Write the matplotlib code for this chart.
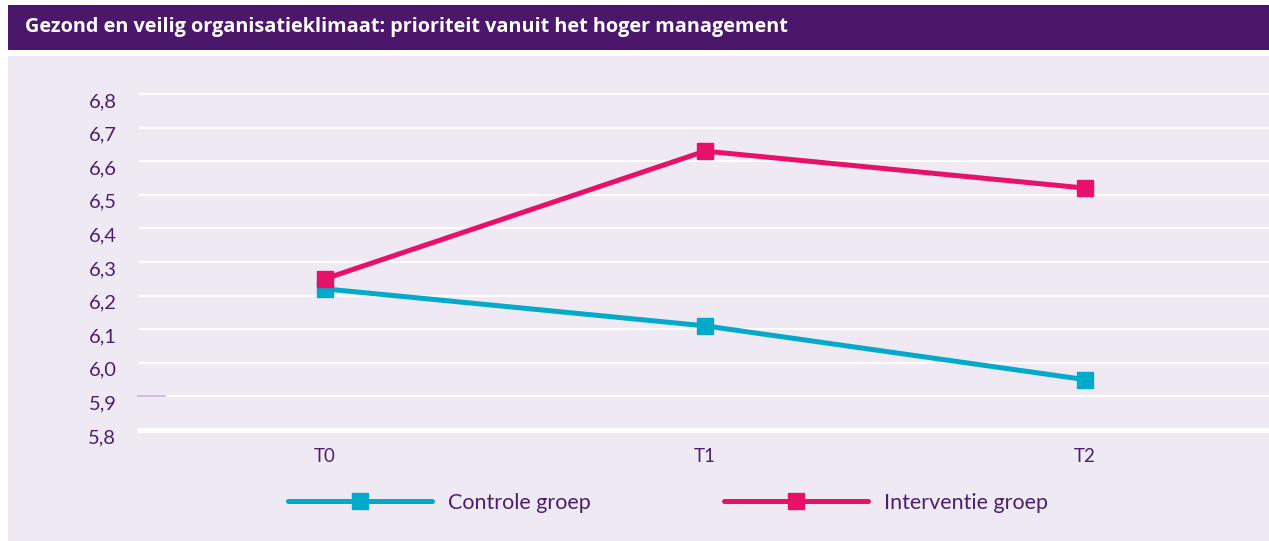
import numpy as np
import matplotlib.pyplot as plt
import matplotlib.transforms as mtransforms
from matplotlib.patches import Rectangle

# data
tijdstippen = ['T0', 'T1', 'T2']
controle = [6.22, 6.11, 5.95]
interventie = [6.25, 6.63, 6.52]
y_ticks = [5.8, 5.9, 6.0, 6.1, 6.2, 6.3, 6.4, 6.5, 6.6, 6.7, 6.8]
y_labels = ['5,8', '5,9', '6,0', '6,1', '6,2', '6,3', '6,4', '6,5', '6,6', '6,7', '6,8']
title = 'Gezond en veilig organisatieklimaat: prioriteit vanuit het hoger management'

PURPLE = '#4b176a'
TEXT = '#4b1e6e'
LAVENDER = '#efe9f4'
CYAN = '#00aac8'
MAGENTA = '#e8116a'

W, H = 1269, 541
fig = plt.figure(figsize=(W / 100, H / 100), dpi=100)
fig.patch.set_facecolor('white')

# title bar and panel background
fig.patches.append(Rectangle((8 / W, 1 - 50 / H), 1, 45 / H, transform=fig.transFigure,
                             facecolor=PURPLE, edgecolor='none', zorder=-5))
fig.patches.append(Rectangle((8 / W, 0), 1, 1 - 56 / H, transform=fig.transFigure,
                             facecolor=LAVENDER, edgecolor='none', zorder=-5))
fig.text(25 / W, 1 - 27 / H, title, color='white', fontsize=14.3, fontweight='bold',
         family='Open Sans', va='center', ha='left')

ax = fig.add_axes([140 / W, (H - 430) / H, (W - 140) / W, 336 / H])
ax.set_facecolor('none')
x = np.arange(len(tijdstippen))
ax.set_xlim(-185 / 380, 2 + 184 / 380)
ax.set_ylim(5.8, 6.8)

for t in y_ticks:
    lw = 3.6 if t == 5.8 else 1.4
    ax.axhline(t, color='white', lw=lw, zorder=1, clip_on=False)
# small stray mark at 5,9 in the original
ax.plot([-0.002, 0.022], [5.9, 5.9], transform=ax.get_yaxis_transform(), color='#c9b3dc',
        lw=1.2, zorder=2, clip_on=False)

ax.plot(x, controle, color=CYAN, lw=3.6, marker='s', markersize=12, zorder=3,
        label='Controle groep', clip_on=False)
ax.plot(x, interventie, color=MAGENTA, lw=3.6, marker='s', markersize=12, zorder=3,
        label='Interventie groep', clip_on=False)

for s in ax.spines.values():
    s.set_visible(False)
ax.set_yticks(y_ticks)
ax.set_yticklabels(y_labels)
ax.set_xticks(x)
ax.set_xticklabels(tijdstippen)
ax.tick_params(length=0, colors=TEXT, labelsize=14.5)
ax.tick_params(axis='y', pad=17)
ax.tick_params(axis='x', pad=13, labelsize=13.5)
for lab in ax.get_yticklabels() + ax.get_xticklabels():
    lab.set_family('Lato')
off = mtransforms.ScaledTranslation(0, -6 / 100, fig.dpi_scale_trans)
for lab in ax.get_yticklabels():
    lab.set_transform(lab.get_transform() + off)

leg = fig.legend(loc='center', bbox_to_anchor=(668 / W, 1 - 503 / H), ncol=2, frameon=False,
                 handlelength=6.7, handletextpad=0.75, columnspacing=6.2,
                 labelcolor=TEXT, prop={'family': 'Lato', 'size': 15.5})
for h in leg.legend_handles:
    h.set_solid_capstyle('round')

fig.savefig('out.png', dpi=100, facecolor=fig.get_facecolor())
